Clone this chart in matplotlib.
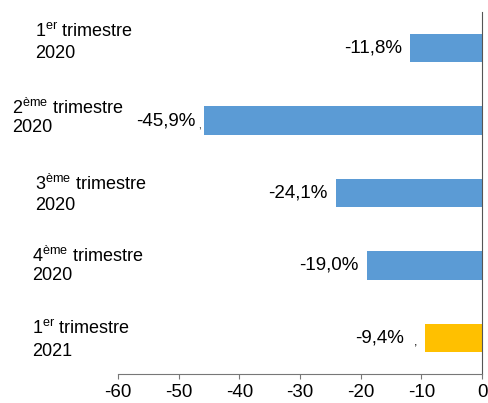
import matplotlib.pyplot as plt

plt.rcParams['font.family'] = ['Liberation Sans', 'DejaVu Sans']
plt.rcParams['mathtext.fontset'] = 'custom'
plt.rcParams['mathtext.rm'] = 'Liberation Sans'

quarters = ["1", "2", "3", "4", "1"]
suffixes = ["er", "ème", "ème", "ème", "er"]
years = ["2020", "2020", "2020", "2020", "2021"]
values = [-11.8, -45.9, -24.1, -19.0, -9.4]
colors = ["#5B9BD5", "#5B9BD5", "#5B9BD5", "#5B9BD5", "#FFC000"]
xticks = [-60, -50, -40, -30, -20, -10, 0]

# category label placement, in figure pixels from the top-left corner
label_x = [35, 12, 35, 32, 32]
label_y1 = [32, 108, 184, 256, 329]
label_y2 = [54, 128, 205, 276, 351]
# gap between bar end and value label, in data units
label_gap = [1.3, 1.3, 1.3, 1.3, 3.5]

W, H = 488, 403
fig = plt.figure(figsize=(W / 100, H / 100), dpi=100)
ax = fig.add_axes([118 / W, 29 / H, 364 / W, 362 / H])

ypos = list(range(len(values)))
ax.barh(ypos, values, height=0.39, color=colors)
ax.set_xlim(-60, 0)
ax.set_ylim(4.5, -0.5)

for s in ["top", "left"]:
    ax.spines[s].set_visible(False)
ax.spines["right"].set_color("#555555")
ax.spines["bottom"].set_color("#777777")
ax.set_yticks([])
ax.set_xticks(xticks)
ax.set_xticklabels([str(t) for t in xticks], fontsize=13.5)
ax.tick_params(axis="x", direction="out", length=3.5, color="#777777", pad=4)

for i, v in enumerate(values):
    txt = ("%.1f%%" % v).replace(".", ",")
    ax.text(v - label_gap[i], i, txt, ha="right", va="center", fontsize=13.5)

# stray separators next to two of the labels
ax.text(values[1] - 0.95, 1.07, ",", ha="left", va="center", fontsize=7)
ax.text(values[4] - 1.9, 4.06, ",", ha="left", va="center", fontsize=9)

for i in range(len(values)):
    fig.text(label_x[i] / W, 1 - label_y1[i] / H,
             r"%s$^{\mathrm{%s}}$ trimestre" % (quarters[i], suffixes[i]),
             ha="left", va="center", fontsize=13)
    fig.text(label_x[i] / W, 1 - label_y2[i] / H, years[i],
             ha="left", va="center", fontsize=13)

fig.savefig("out.png", dpi=100)
